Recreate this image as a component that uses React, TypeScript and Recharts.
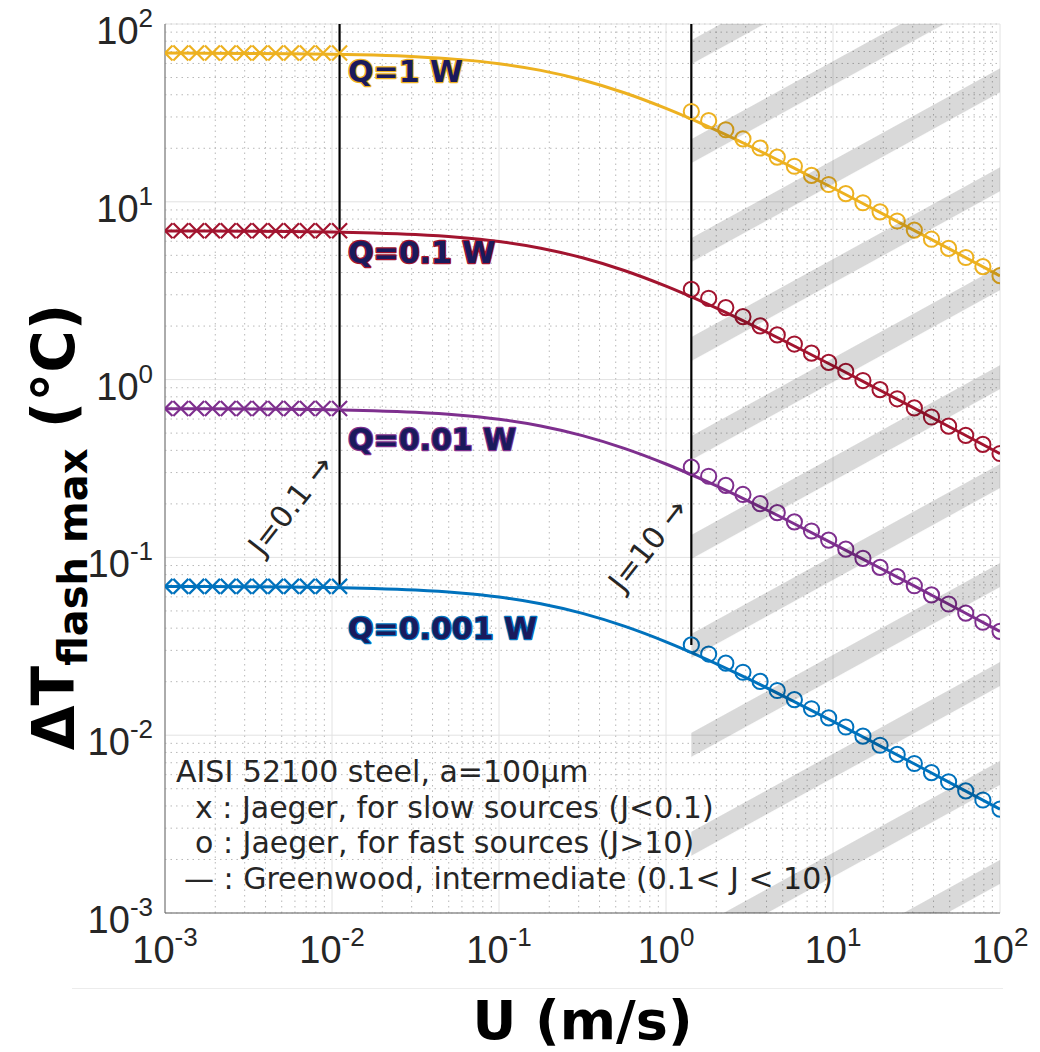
import React from 'react';
import {
  ComposedChart,
  Line,
  XAxis,
  YAxis,
  CartesianGrid,
  ReferenceLine,
  ReferenceArea,
  ReferenceDot,
} from 'recharts';

// ---- axis structure -------------------------------------------------------
const DECADES = [0.001, 0.01, 0.1, 1, 10, 100];
const MINOR_STEPS = [2, 3, 4, 5, 6, 7, 8, 9];
const MINOR = DECADES.slice(0, -1).flatMap((d) => MINOR_STEPS.map((m) => +(m * d).toPrecision(3)));
const DOMAIN: [number, number] = [0.001, 100];

// ---- sliding speeds (m/s) -------------------------------------------------
const U_J_SLOW = 0.0111; // J = 0.1
const U_J_FAST = 1.418; // J = 10

const slowU = [0.001, 0.001244, 0.001547, 0.001924, 0.002392, 0.002975, 0.0037, 0.004601, 0.005722, 0.007116, 0.008851, 0.0111];
const fastU = [1.418, 1.801, 2.281, 2.889, 3.659, 4.636, 5.871, 7.435, 9.417, 11.93, 15.11, 19.13, 24.23, 30.69, 38.87, 49.23, 62.35, 78.97, 100];
const greenU = [0.001, 0.001778, 0.003162, 0.005623, 0.01, 0.01778, 0.03162, 0.05623, 0.1, 0.1778, 0.3162, 0.5623, 1, 1.778, 3.162, 5.623, 10, 17.78, 31.62, 56.23, 100];

// ---- flash temperature rise (°C) -----------------------------------------
// Jaeger, slow sources
const slowQ1 = [68.7, 68.7, 68.7, 68.7, 68.7, 68.7, 68.7, 68.7, 68.7, 68.7, 68.7, 68.7];
const slowQ01 = [6.87, 6.87, 6.87, 6.87, 6.87, 6.87, 6.87, 6.87, 6.87, 6.87, 6.87, 6.87];
const slowQ001 = [0.687, 0.687, 0.687, 0.687, 0.687, 0.687, 0.687, 0.687, 0.687, 0.687, 0.687, 0.687];
const slowQ0001 = [0.0687, 0.0687, 0.0687, 0.0687, 0.0687, 0.0687, 0.0687, 0.0687, 0.0687, 0.0687, 0.0687, 0.0687];

// Jaeger, fast sources
const fastQ1 = [32.19, 28.61, 25.42, 22.59, 20.07, 17.84, 15.85, 14.08, 12.51, 11.12, 9.88, 8.78, 7.8, 6.93, 6.16, 5.47, 4.86, 4.32, 3.84];
const fastQ01 = [3.219, 2.861, 2.542, 2.259, 2.007, 1.784, 1.585, 1.408, 1.251, 1.112, 0.988, 0.878, 0.78, 0.693, 0.616, 0.547, 0.486, 0.432, 0.384];
const fastQ001 = [0.3219, 0.2861, 0.2542, 0.2259, 0.2007, 0.1784, 0.1585, 0.1408, 0.1251, 0.1112, 0.0988, 0.0878, 0.078, 0.0693, 0.0616, 0.0547, 0.0486, 0.0432, 0.0384];
const fastQ0001 = [0.03219, 0.02861, 0.02542, 0.02259, 0.02007, 0.01784, 0.01585, 0.01408, 0.01251, 0.01112, 0.00988, 0.00878, 0.0078, 0.00693, 0.00616, 0.00547, 0.00486, 0.00432, 0.00384];

// Greenwood, intermediate
const greenQ1 = [68.59, 68.51, 68.35, 68.09, 67.63, 66.83, 65.47, 63.25, 59.8, 54.85, 48.43, 41.06, 33.52, 26.56, 20.6, 15.76, 11.96, 9.03, 6.8, 5.107, 3.834];
const greenQ01 = [6.859, 6.851, 6.835, 6.809, 6.763, 6.683, 6.547, 6.325, 5.98, 5.485, 4.843, 4.106, 3.352, 2.656, 2.06, 1.576, 1.196, 0.903, 0.68, 0.5107, 0.3834];
const greenQ001 = [0.6859, 0.6851, 0.6835, 0.6809, 0.6763, 0.6683, 0.6547, 0.6325, 0.598, 0.5485, 0.4843, 0.4106, 0.3352, 0.2656, 0.206, 0.1576, 0.1196, 0.0903, 0.068, 0.05107, 0.03834];
const greenQ0001 = [0.06859, 0.06851, 0.06835, 0.06809, 0.06763, 0.06683, 0.06547, 0.06325, 0.0598, 0.05485, 0.04843, 0.04106, 0.03352, 0.02656, 0.0206, 0.01576, 0.01196, 0.00903, 0.0068, 0.005107, 0.003834];

// ---- series and annotations ----------------------------------------------
const seriesNames = ['Q=1 W', 'Q=0.1 W', 'Q=0.01 W', 'Q=0.001 W'];
const seriesColors = ['#EDB120', '#A2142F', '#7E2F8E', '#0072BD'];
const seriesSlow = [slowQ1, slowQ01, slowQ001, slowQ0001];
const seriesFast = [fastQ1, fastQ01, fastQ001, fastQ0001];
const seriesGreen = [greenQ1, greenQ01, greenQ001, greenQ0001];
// left/baseline anchor of each "Q=" label (U, ΔT)
const labelAnchors = [
  { u: 0.01247, t: 47.2 },
  { u: 0.01247, t: 4.53 },
  { u: 0.01247, t: 0.4018 },
  { u: 0.01247, t: 0.03477 },
];

const jLabels = [
  { text: 'J=0.1 →', u: 0.00565, t: 0.1971 },
  { text: 'J=10 →', u: 0.78, t: 0.1174 },
];

const legendAnchor = { u: 0.001164, t: 0.005455 };
const legendLines = [
  { text: 'AISI 52100 steel, a=100µm', dx: 0 },
  { text: 'x : Jaeger, for slow sources (J<0.1)', dx: 19 },
  { text: 'o : Jaeger, for fast sources (J>10)', dx: 19 },
  { text: '— : Greenwood, intermediate (0.1< J < 10)', dx: 8 },
];

const toRows = (us: number[], ts: number[]) => us.map((u, i) => ({ u, t: ts[i] }));

// ---- styling ---------------------------------------------------------------
const AXIS = '#666666';
const TXT = '#262626';
const TICK_FONT = "'Liberation Sans', Arial, Helvetica, sans-serif";
const DEJAVU = "'DejaVu Sans', Verdana, sans-serif";
const LABEL_FILL = '#1a1a5c';
const MINOR_GRID = '#b8b8b8';

const CHART_W = 1040;
const CHART_H = 1052;

function XTick(props: any) {
  const { x, y, payload } = props;
  const e = Math.round(Math.log10(payload.value));
  return (
    <text x={x} y={y + 42} textAnchor="middle" fontFamily={TICK_FONT} fontSize={38} fill={TXT}>
      <tspan>10</tspan>
      <tspan dy={-17} fontSize={26}>{e}</tspan>
    </text>
  );
}

function YTick(props: any) {
  const { x, y, payload } = props;
  const e = Math.round(Math.log10(payload.value));
  return (
    <text x={x - 4} y={y + 20} textAnchor="end" fontFamily={TICK_FONT} fontSize={38} fill={TXT}>
      <tspan>10</tspan>
      <tspan dy={-17} fontSize={26}>{e}</tspan>
    </text>
  );
}

const NoTick = () => <g />;

function XTitle(props: any) {
  const vb = props.viewBox || { x: 0, y: 0, width: 0 };
  return (
    <text
      x={vb.x + vb.width / 2}
      y={vb.y + 126}
      textAnchor="middle"
      fontFamily={DEJAVU}
      fontWeight="bold"
      fontSize={54}
      fill="#000"
    >
      U (m/s)
    </text>
  );
}

function YTitle(props: any) {
  const vb = props.viewBox || { x: 0, y: 0 };
  const cx = vb.x + 74;
  const cy = vb.y + 503;
  return (
    <text
      x={cx}
      y={cy}
      transform={`rotate(-90 ${cx} ${cy})`}
      textAnchor="middle"
      fontFamily={DEJAVU}
      fontWeight="bold"
      fontSize={58}
      fill="#000"
    >
      ΔT
      <tspan fontSize={40} dy={13}>flash max</tspan>
      <tspan dy={-13}> (°C)</tspan>
    </text>
  );
}

const circleDot = (color: string) => (p: any) => {
  if (p.cx == null || p.cy == null) return <g key={`o-${p.index}`} />;
  return <circle key={`o-${p.index}`} cx={p.cx} cy={p.cy} r={7.6} fill="none" stroke={color} strokeWidth={2} />;
};

const crossDot = (color: string) => (p: any) => {
  if (p.cx == null || p.cy == null) return <g key={`x-${p.index}`} />;
  const s = 7.5;
  return (
    <path
      key={`x-${p.index}`}
      d={`M${p.cx - s},${p.cy - s}L${p.cx + s},${p.cy + s}M${p.cx - s},${p.cy + s}L${p.cx + s},${p.cy - s}`}
      stroke={color}
      strokeWidth={2.2}
      fill="none"
    />
  );
};

const ids = { xAxisId: 'x', yAxisId: 'y' };

export default function App() {
  return (
    <div style={{ position: 'absolute', left: 0, top: 0, width: CHART_W, height: CHART_H, background: '#fff' }}>
      <ComposedChart width={CHART_W} height={CHART_H} margin={{ top: 24, right: 40, bottom: 0, left: 0 }}>
        <defs>
          <pattern
            id="fastHatch"
            patternUnits="userSpaceOnUse"
            x={0}
            y={21.6}
            width={60}
            height={86.7}
            patternTransform="rotate(-28.81)"
          >
            <rect x={0} y={0} width={60} height={21} fill="rgba(0,0,0,0.15)" />
          </pattern>
        </defs>

        {/* inner tick marks: mirrored axes (declared first so they sit on the plot edges) */}
        <XAxis xAxisId="xbMaj" orientation="bottom" mirror height={0} type="number" scale="log" domain={DOMAIN} allowDataOverflow ticks={DECADES} interval={0} tickSize={9} tick={NoTick} axisLine={false} stroke={AXIS} />
        <XAxis xAxisId="xbMin" orientation="bottom" mirror height={0} type="number" scale="log" domain={DOMAIN} allowDataOverflow ticks={MINOR} interval={0} tickSize={5} tick={NoTick} axisLine={false} stroke={AXIS} />
        <XAxis xAxisId="xtMaj" orientation="top" mirror height={0} type="number" scale="log" domain={DOMAIN} allowDataOverflow ticks={DECADES} interval={0} tickSize={9} tick={NoTick} stroke={AXIS} />
        <XAxis xAxisId="xtMin" orientation="top" mirror height={0} type="number" scale="log" domain={DOMAIN} allowDataOverflow ticks={MINOR} interval={0} tickSize={5} tick={NoTick} axisLine={false} stroke={AXIS} />
        <YAxis yAxisId="ylMaj" orientation="left" mirror width={0} type="number" scale="log" domain={DOMAIN} allowDataOverflow ticks={DECADES} interval={0} tickSize={9} tick={NoTick} axisLine={false} stroke={AXIS} />
        <YAxis yAxisId="ylMin" orientation="left" mirror width={0} type="number" scale="log" domain={DOMAIN} allowDataOverflow ticks={MINOR} interval={0} tickSize={5} tick={NoTick} axisLine={false} stroke={AXIS} />
        <YAxis yAxisId="yrMaj" orientation="right" mirror width={0} type="number" scale="log" domain={DOMAIN} allowDataOverflow ticks={DECADES} interval={0} tickSize={9} tick={NoTick} stroke={AXIS} />
        <YAxis yAxisId="yrMin" orientation="right" mirror width={0} type="number" scale="log" domain={DOMAIN} allowDataOverflow ticks={MINOR} interval={0} tickSize={5} tick={NoTick} axisLine={false} stroke={AXIS} />

        {/* labelled axes */}
        <XAxis
          xAxisId="x"
          dataKey="u"
          orientation="bottom"
          height={139}
          type="number"
          scale="log"
          domain={DOMAIN}
          allowDataOverflow
          ticks={DECADES}
          interval={0}
          tickLine={false}
          axisLine={{ stroke: AXIS }}
          tick={<XTick />}
          label={<XTitle />}
        />
        <YAxis
          yAxisId="y"
          dataKey="t"
          orientation="left"
          width={165}
          type="number"
          scale="log"
          domain={DOMAIN}
          allowDataOverflow
          ticks={DECADES}
          interval={0}
          tickLine={false}
          axisLine={{ stroke: AXIS }}
          tick={<YTick />}
          label={<YTitle />}
        />

        {/* grid: dotted minor, faint solid major */}
        <CartesianGrid xAxisId="xbMin" yAxisId="ylMin" vertical={false} stroke={MINOR_GRID} strokeDasharray="1.5 4" />
        <CartesianGrid {...ids} stroke="#e2e2e2" />
        {MINOR.map((v) => (
          <ReferenceLine key={`mv-${v}`} {...ids} x={v} stroke={MINOR_GRID} strokeWidth={1} strokeDasharray="1.5 4" />
        ))}

        {seriesNames.map((name, i) => (
          <Line
            key={`g-${name}`}
            {...ids}
            data={toRows(greenU, seriesGreen[i])}
            dataKey="t"
            type="monotone"
            stroke={seriesColors[i]}
            strokeWidth={3}
            dot={false}
            activeDot={false}
            isAnimationActive={false}
          />
        ))}
        {seriesNames.map((name, i) => (
          <Line
            key={`s-${name}`}
            {...ids}
            data={toRows(slowU, seriesSlow[i])}
            dataKey="t"
            stroke="none"
            dot={crossDot(seriesColors[i])}
            activeDot={false}
            isAnimationActive={false}
          />
        ))}
        {seriesNames.map((name, i) => (
          <Line
            key={`f-${name}`}
            {...ids}
            data={toRows(fastU, seriesFast[i])}
            dataKey="t"
            stroke="none"
            dot={circleDot(seriesColors[i])}
            activeDot={false}
            isAnimationActive={false}
          />
        ))}

        {/* J = 0.1 and J = 10 boundaries */}
        <ReferenceLine {...ids} segment={[{ x: U_J_SLOW, y: 100 }, { x: U_J_SLOW, y: slowQ0001[slowQ0001.length - 1] }]} stroke="#000" strokeWidth={2.2} />
        <ReferenceLine {...ids} segment={[{ x: U_J_FAST, y: 100 }, { x: U_J_FAST, y: fastQ0001[0] }]} stroke="#000" strokeWidth={2.2} />

        {seriesNames.map((name, i) => (
          <ReferenceDot
            key={`l-${name}`}
            {...ids}
            x={labelAnchors[i].u}
            y={labelAnchors[i].t}
            r={0}
            shape={(p: any) => (
              <text
                x={p.cx}
                y={p.cy}
                fontFamily={DEJAVU}
                fontWeight="bold"
                fontSize={30}
                fill={LABEL_FILL}
                stroke={seriesColors[i]}
                strokeWidth={2.4}
                paintOrder="stroke"
                strokeLinejoin="round"
              >
                {name}
              </text>
            )}
          />
        ))}

        {jLabels.map((j) => (
          <ReferenceDot
            key={j.text}
            {...ids}
            x={j.u}
            y={j.t}
            r={0}
            shape={(p: any) => (
              <text
                x={p.cx}
                y={p.cy}
                transform={`rotate(-52 ${p.cx} ${p.cy})`}
                textAnchor="middle"
                dominantBaseline="central"
                fontFamily={DEJAVU}
                fontSize={30}
                fill={TXT}
              >
                {j.text}
              </text>
            )}
          />
        ))}

        <ReferenceDot
          {...ids}
          x={legendAnchor.u}
          y={legendAnchor.t}
          r={0}
          shape={(p: any) => (
            <g>
              {legendLines.map((l, k) => (
                <text key={k} x={p.cx + l.dx} y={p.cy + k * 35.7} fontFamily={DEJAVU} fontSize={30} fill={TXT}>
                  {l.text}
                </text>
              ))}
            </g>
          )}
        />

        {/* fast-source regime (J > 10) */}
        <ReferenceArea
          {...ids}
          x1={U_J_FAST}
          x2={100}
          y1={0.001}
          y2={100}
          fill="url(#fastHatch)"
          fillOpacity={1}
          stroke="none"
          zIndex={1600}
        />
      </ComposedChart>
      <div style={{ position: 'absolute', left: 72, top: 988, width: 931, height: 1, background: '#ececec' }} />
    </div>
  );
}
